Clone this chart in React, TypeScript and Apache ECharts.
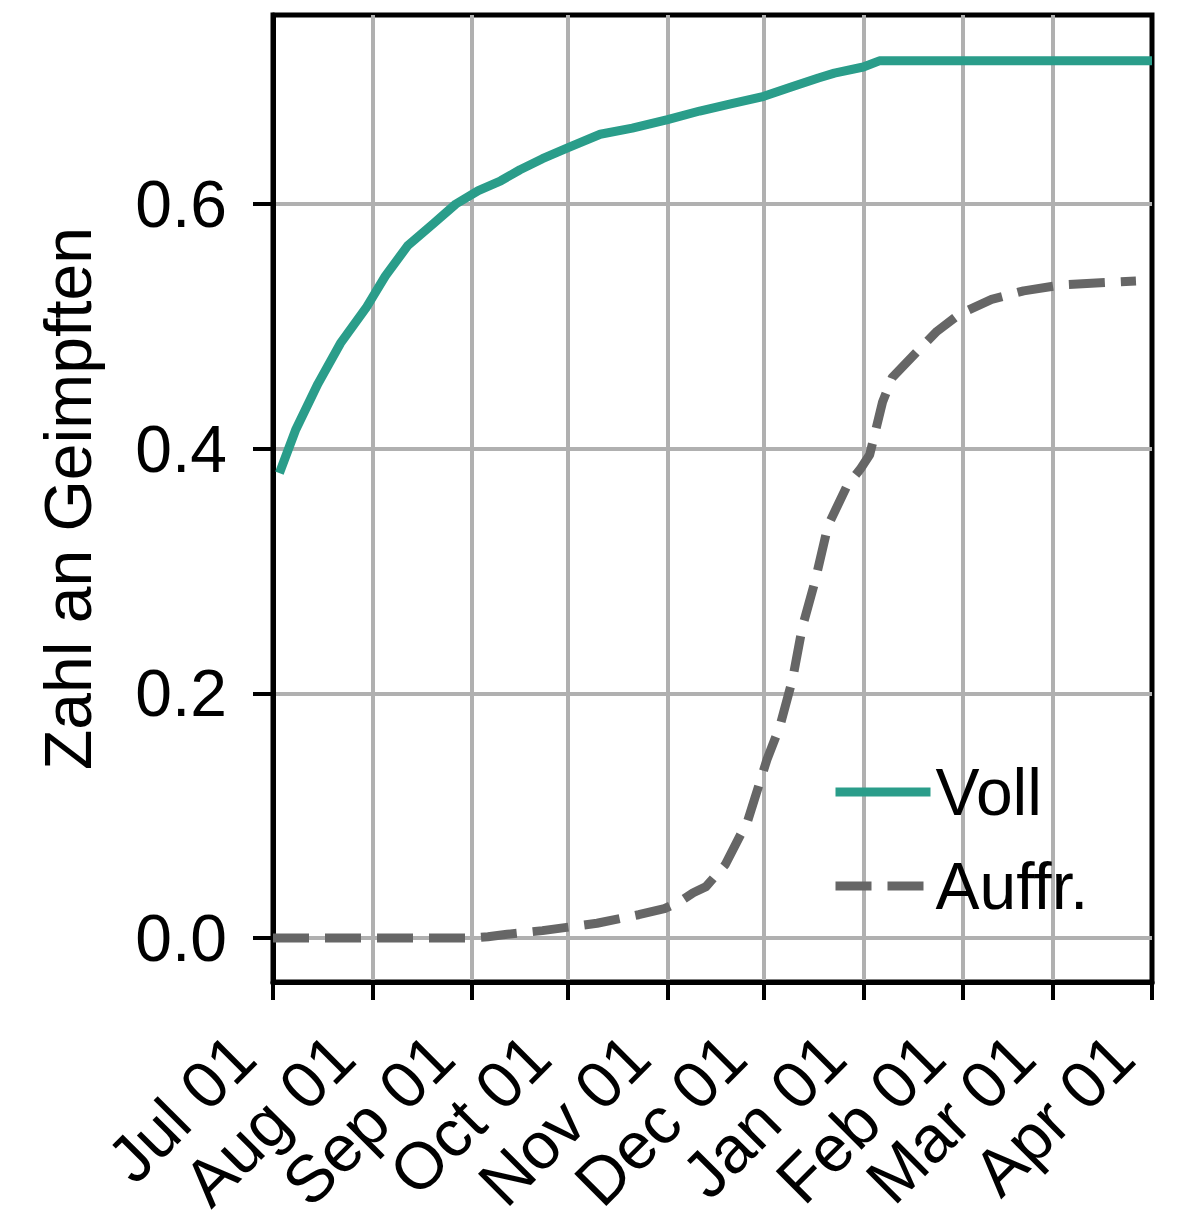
import React, { useEffect, useRef } from 'react';
import * as echarts from 'echarts';

// ---- axis range (categories are the days between these two dates) ----
const START_DATE = '2021-07-01';
const END_DATE = '2022-04-01';
const MONTH_NAMES = ['Jan', 'Feb', 'Mar', 'Apr', 'May', 'Jun', 'Jul', 'Aug', 'Sep', 'Oct', 'Nov', 'Dec'];

// ---- y ticks ----
const Y_TICKS = [0, 0.2, 0.4, 0.6];
const Y_MIN = -0.036;
const Y_MAX = 0.7545;

// ---- series: Voll ----
const vollDates = [
  '2021-07-03', '2021-07-08', '2021-07-15', '2021-07-22', '2021-07-30',
  '2021-08-05', '2021-08-12', '2021-08-20', '2021-08-27', '2021-09-03',
  '2021-09-10', '2021-09-16', '2021-09-23', '2021-10-01', '2021-10-11',
  '2021-10-21', '2021-11-01', '2021-11-11', '2021-11-21', '2021-12-01',
  '2021-12-10', '2021-12-18', '2021-12-23', '2022-01-01', '2022-01-06',
  '2022-04-01',
];
const vollValues = [
  0.380, 0.415, 0.453, 0.486, 0.515,
  0.541, 0.566, 0.584, 0.600, 0.611,
  0.619, 0.628, 0.637, 0.646, 0.657,
  0.662, 0.669, 0.676, 0.682, 0.688,
  0.696, 0.703, 0.707, 0.712, 0.717,
  0.717,
];

// ---- series: Auffr. ----
const auffrDates = [
  '2021-07-01', '2021-09-01', '2021-09-06', '2021-09-12', '2021-09-23',
  '2021-10-10', '2021-10-23', '2021-10-31', '2021-11-05', '2021-11-09',
  '2021-11-13', '2021-11-19', '2021-11-26', '2021-12-02', '2021-12-06',
  '2021-12-10', '2021-12-13', '2021-12-17', '2021-12-21', '2021-12-27',
  '2021-12-31', '2022-01-03', '2022-01-07', '2022-01-10', '2022-01-18',
  '2022-01-24', '2022-01-31', '2022-02-10', '2022-02-20', '2022-03-04',
  '2022-03-19', '2022-03-27',
];
const auffrValues = [
  0.000, 0.000, 0.001, 0.003, 0.006,
  0.012, 0.019, 0.024, 0.030, 0.037,
  0.042, 0.060, 0.096, 0.146, 0.173,
  0.212, 0.254, 0.292, 0.337, 0.370,
  0.383, 0.395, 0.438, 0.458, 0.480,
  0.496, 0.510, 0.522, 0.529, 0.534,
  0.536, 0.537,
];

const TEAL = '#2a9d8a';
const GREY = '#666666';
const GRID_GREY = '#b0b0b0';
const FONT = '"Liberation Sans", Arial, sans-serif';
const FS = 66;

function pad2(n: number) {
  return n < 10 ? '0' + n : '' + n;
}

function buildDays(start: string, end: string): string[] {
  const [sy, sm, sd] = start.split('-').map(Number);
  const [ey, em, ed] = end.split('-').map(Number);
  let t = Date.UTC(sy, sm - 1, sd);
  const tEnd = Date.UTC(ey, em - 1, ed);
  const out: string[] = [];
  while (t <= tEnd) {
    const d = new Date(t);
    out.push(d.getUTCFullYear() + '-' + pad2(d.getUTCMonth() + 1) + '-' + pad2(d.getUTCDate()));
    t += 86400000;
  }
  return out;
}

const isMonthStart = (_i: number, v: string) => v.slice(8) === '01';
const isInnerMonthStart = (_i: number, v: string) =>
  v.slice(8) === '01' && v !== START_DATE && v !== END_DATE;
const fmtDate = (v: string) => MONTH_NAMES[Number(v.slice(5, 7)) - 1] + ' ' + v.slice(8);

export default function App() {
  const ref = useRef<HTMLDivElement>(null);

  useEffect(() => {
    if (!ref.current) return;
    const chart = echarts.init(ref.current, undefined, { renderer: 'svg' });
    const days = buildDays(START_DATE, END_DATE);

    const option: any = {
      animation: false,
      backgroundColor: '#ffffff',
      grid: {
        left: 273,
        right: 26,
        top: 15,
        bottom: 239,
        show: true,
        borderColor: '#000',
        borderWidth: 5,
        backgroundColor: 'transparent',
      },
      xAxis: {
        type: 'category',
        data: days,
        boundaryGap: false,
        axisLine: { show: true, onZero: false, lineStyle: { color: '#000', width: 5 } },
        axisTick: {
          show: true,
          interval: isMonthStart,
          length: 18,
          lineStyle: { color: '#000', width: 4 },
        },
        axisLabel: {
          interval: isMonthStart,
          rotate: 45,
          formatter: fmtDate,
          fontSize: FS,
          color: '#000',
          fontFamily: FONT,
          margin: 34,
          padding: [0, 42, 0, 0],
        },
        splitLine: {
          show: true,
          interval: isInnerMonthStart,
          lineStyle: { color: GRID_GREY, width: 4 },
        },
      },
      yAxis: {
        type: 'value',
        min: Y_MIN,
        max: Y_MAX,
        name: 'Zahl an Geimpften',
        nameLocation: 'middle',
        nameRotate: 90,
        nameGap: 172,
        nameTextStyle: { fontSize: FS, color: '#000', fontFamily: FONT },
        axisLine: { show: true, onZero: false, lineStyle: { color: '#000', width: 5 } },
        axisTick: {
          show: true,
          customValues: Y_TICKS,
          length: 20,
          lineStyle: { color: '#000', width: 4 },
        },
        axisLabel: {
          customValues: Y_TICKS,
          formatter: (v: number) => v.toFixed(1),
          fontSize: FS,
          color: '#000',
          fontFamily: FONT,
          margin: 46,
        },
        splitLine: { show: true, lineStyle: { color: GRID_GREY, width: 4 } },
      },
      legend: {
        orient: 'vertical',
        left: 831,
        top: 759,
        padding: 0,
        itemWidth: 95,
        itemHeight: 20,
        itemGap: 28,
        itemStyle: { opacity: 0 },
        lineStyle: { width: 9 },
        textStyle: { fontSize: FS, color: '#000', fontFamily: FONT, lineHeight: FS },
        data: ['Voll', 'Auffr.'],
      },
      series: [
        {
          name: 'Voll',
          type: 'line',
          symbol: 'none',
          data: vollDates.map((d, i) => [d, vollValues[i]]),
          lineStyle: { color: TEAL, width: 9, cap: 'butt', join: 'round' },
          itemStyle: { color: TEAL },
          z: 4,
        },
        {
          name: 'Auffr.',
          type: 'line',
          symbol: 'none',
          data: auffrDates.map((d, i) => [d, auffrValues[i]]),
          lineStyle: { color: GREY, width: 9, type: [36, 16], cap: 'butt', join: 'round' },
          itemStyle: { color: GREY },
          z: 3,
        },
      ],
    };

    chart.setOption(option);
    return () => chart.dispose();
  }, []);

  return (
    <div
      ref={ref}
      style={{ position: 'absolute', left: 0, top: 0, width: 1178, height: 1221, background: '#fff' }}
    />
  );
}
